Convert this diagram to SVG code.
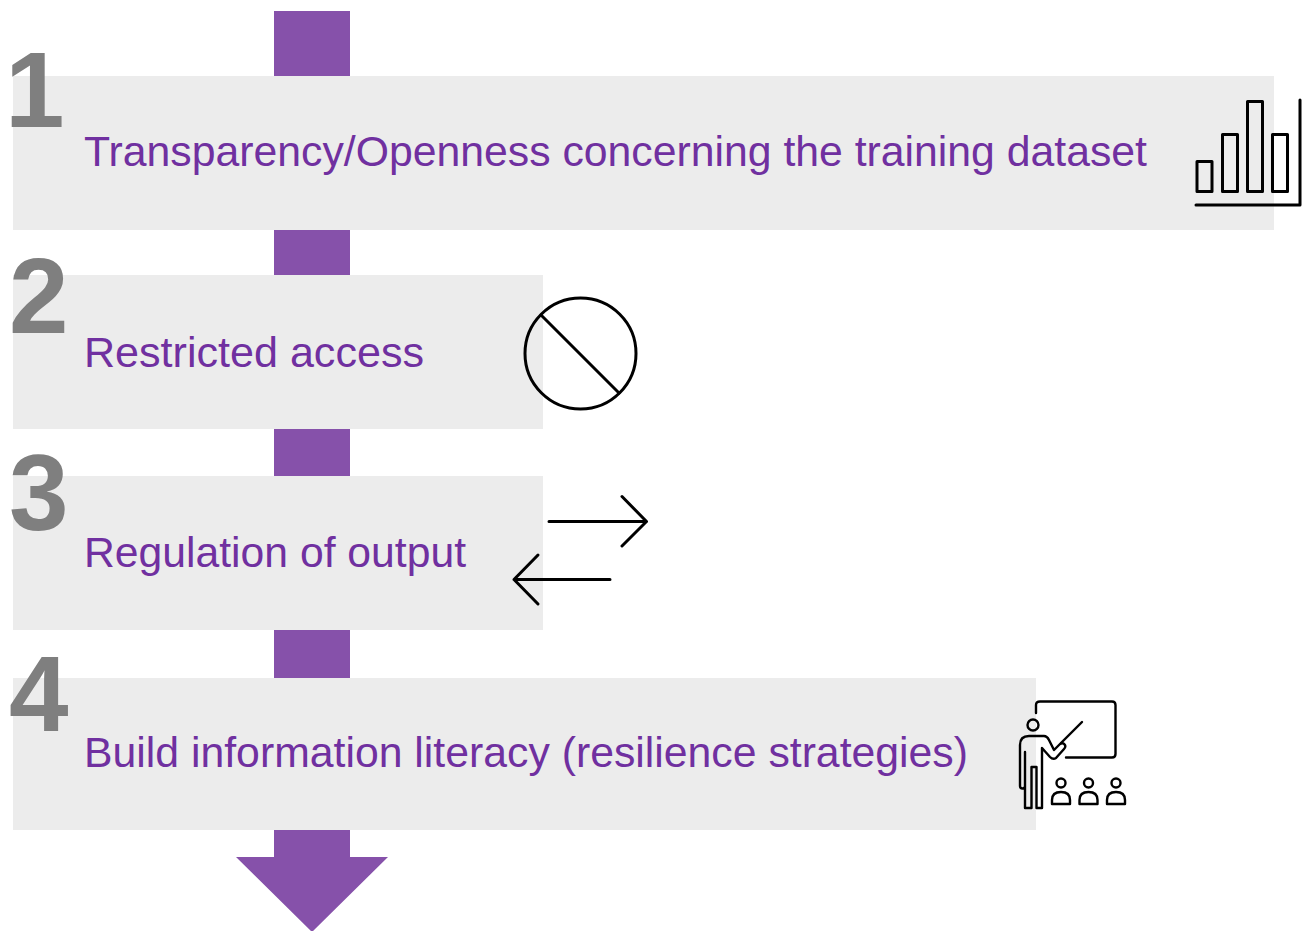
<svg xmlns="http://www.w3.org/2000/svg" width="1304" height="931" viewBox="0 0 1304 931">
<defs>
<style>
.box{fill:#ECECEC}
.num{font-family:"Liberation Sans",Arial,sans-serif;font-weight:bold;font-size:107px;fill:#7F7F7F}
.lbl{font-family:"Liberation Sans",Arial,sans-serif;font-size:43px;fill:#7030A0}
.ic{fill:none;stroke:#000;stroke-width:3;stroke-linecap:round;stroke-linejoin:round}
.ic2{fill:none;stroke:#000;stroke-width:2.4;stroke-linecap:round;stroke-linejoin:round}
.flow{fill:#8651AA}
</style>
</defs>
<rect width="1304" height="931" fill="#FFFFFF"/>
<g id="connectors">
<path class="flow" d="M274,11 H350 V857 H388 L312,932 L236,857 H274 Z"/>
</g>
<g id="step1">
<rect class="box" x="13" y="76" width="1261" height="154"/>
<text class="num" x="5" y="127">1</text>
<text class="lbl" x="84" y="166" textLength="1063" lengthAdjust="spacingAndGlyphs">Transparency/Openness concerning the training dataset</text>
<g id="icon-chart" class="ic">
<rect x="1197" y="161.5" width="15" height="30"/>
<rect x="1222.5" y="134.5" width="15" height="57"/>
<rect x="1247.5" y="101.5" width="15" height="90"/>
<rect x="1272.5" y="134.5" width="15" height="57"/>
<path d="M1196,205 H1300 V100"/>
</g>
</g>
<g id="step2">
<rect class="box" x="13" y="275" width="530" height="154"/>
<text class="num" x="9" y="333">2</text>
<text class="lbl" x="84" y="367" textLength="340" lengthAdjust="spacingAndGlyphs">Restricted access</text>
<g id="icon-no" class="ic">
<circle cx="580.5" cy="353.5" r="55.5"/>
<line x1="541" y1="315" x2="619" y2="393"/>
</g>
</g>
<g id="step3">
<rect class="box" x="13" y="476" width="530" height="154"/>
<text class="num" x="9" y="530">3</text>
<text class="lbl" x="84" y="567" textLength="382" lengthAdjust="spacingAndGlyphs">Regulation of output</text>
<g id="icon-arrows" class="ic">
<path d="M549,521.5 H646.5 M622,496.5 L646.5,521.5 L622,546"/>
<path d="M610,579.5 H514 M538,555 L514,579.5 L538,604"/>
</g>
</g>
<g id="step4">
<rect class="box" x="13" y="678" width="1023" height="152"/>
<text class="num" x="9" y="731">4</text>
<text class="lbl" x="84" y="767" textLength="884" lengthAdjust="spacingAndGlyphs">Build information literacy (resilience strategies)</text>
<g id="icon-teacher" class="ic2">
<path d="M1036,713 V705 Q1036,701.5 1040,701.5 H1112 Q1115.5,701.5 1115.5,705 V754 Q1115.5,757.5 1112,757.5 H1066"/>
<circle cx="1033" cy="725" r="5.5"/>
<path d="M1025,752 V786 Q1025,788.5 1022.5,788.5 Q1020,788.5 1020,786 V745 Q1020,736 1029,736 H1044 Q1047,736 1049,740 L1054,750 L1060,744 Q1063,742 1065,745 Q1066,747 1064,749 L1056,758 Q1053,760 1050,757 L1042,748 V808 H1036.5 V767 H1031.5 V808 H1025 Z"/>
<line x1="1061" y1="743" x2="1082" y2="722"/>
<circle cx="1061" cy="783" r="4.5"/>
<path d="M1052,804 V800 Q1052,792 1061,792 Q1070,792 1070,800 V804 Z"/>
<circle cx="1088.5" cy="783" r="4.5"/>
<path d="M1079.5,804 V800 Q1079.5,792 1088.5,792 Q1097.5,792 1097.5,800 V804 Z"/>
<circle cx="1116" cy="783" r="4.5"/>
<path d="M1107,804 V800 Q1107,792 1116,792 Q1125,792 1125,800 V804 Z"/>
</g>
</g>
</svg>
